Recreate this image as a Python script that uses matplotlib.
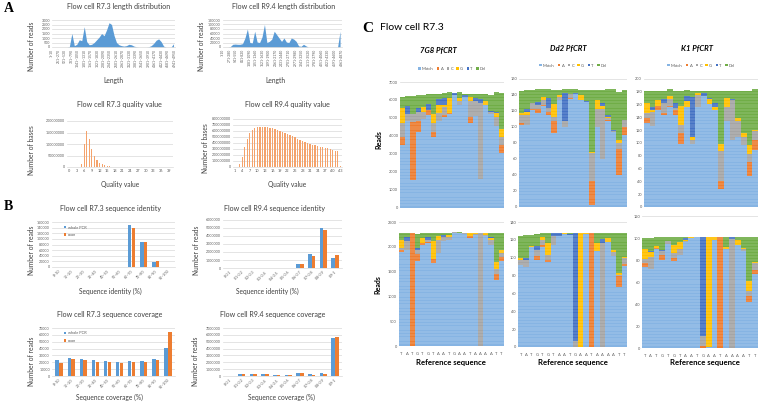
import numpy as np
import matplotlib
matplotlib.use("Agg")
import matplotlib.pyplot as plt
from matplotlib.patches import Patch

plt.rcParams['font.family'] = ['Lato', 'DejaVu Sans']

W, H = 760, 403
fig = plt.figure(figsize=(W / 100, H / 100), dpi=100)

BLUE = '#5B9BD5'
ORANGE = '#ED7D31'
GRID = '#D9D9D9'
TXT = '#404040'

# ---------------- data ----------------
len73_x = list(range(0, 5000, 100))
len73_y = [0, 0, 0, 0, 0, 0, 0, 50, 1500, 150, 300, 800, 700, 2250, 600, 250, 300, 500, 800, 1100,
           1500, 1250, 1900, 2700, 2500, 1300, 500, 250, 150, 100, 150, 300, 250, 100, 30, 0, 0, 0, 0, 30,
           150, 400, 750, 900, 600, 100, 0, 0, 0, 350]
len73_ticks = [1, 261, 521, 781, 1041, 1301, 1561, 1821, 2081, 2341, 2601, 2861, 3121, 3381, 3641,
               3901, 4161, 4421, 4681, 4941]
len73_labels = [f"{v}~{v + 9}" for v in len73_ticks]

len94_x = list(range(0, 4900, 100))
len94_y = [0, 0, 0, 2000, 12000, 13000, 12000, 12000, 15000, 40000, 80000, 20000, 18000, 70000, 22000,
           20000, 45000, 100000, 20000, 25000, 35000, 70000, 55000, 40000, 25000, 40000, 22000, 20000, 40000,
           35000, 25000, 5000, 3000, 12000, 5000, 0, 0, 0, 0, 0, 0, 0, 0, 0, 0, 0, 0, 0, 70000]
len94_ticks = [1, 271, 541, 811, 1081, 1351, 1621, 1891, 2161, 2431, 2701, 2971, 3241, 3511, 3781,
               4051, 4321, 4591, 4861]
len94_labels = [f"{v}-{v + 9}" for v in len94_ticks]

q73_cat = list(range(0, 41))
q73_val = [0, 0, 0, 0, 0, 12e6, 100e6, 158e6, 122e6, 80e6, 48e6, 30e6, 18e6, 12e6, 7e6, 5e6, 3e6, 2e6,
           1e6, 0.5e6] + [0] * 21

q94_cat = list(range(1, 44))
q94_val = [0, 0, 50e6, 175e6, 330e6, 460e6, 570e6, 620e6, 650e6, 665e6, 670e6, 672e6, 670e6, 665e6,
           655e6, 645e6, 635e6, 620e6, 605e6, 590e6, 575e6, 555e6, 535e6, 515e6, 495e6, 475e6, 455e6,
           435e6, 418e6, 402e6, 388e6, 374e6, 362e6, 350e6, 340e6, 330e6, 320e6, 310e6, 300e6, 290e6,
           275e6, 260e6, 15e6]

cat73 = ["0~10", "10~20", "20~30", "30~40", "40~50", "50~60", "60~70", "70~80", "80~90", "90~100"]
cat94 = ["0-0.1", "0.1-0.2", "0.2-0.3", "0.3-0.4", "0.4-0.5", "0.5-0.6", "0.6-0.7", "0.7-0.8",
         "0.8-0.9", "0.9-1"]

id73_whole = [0, 0, 0, 0, 0, 0, 148000, 88000, 17000, 0]
id73_exon = [0, 0, 0, 0, 0, 0, 140000, 90000, 22000, 0]
id94_whole = [0, 0, 0, 0, 0, 0, 450000, 1750000, 4950000, 1200000]
id94_exon = [0, 0, 0, 0, 0, 0, 480000, 1500000, 4800000, 1650000]

cov73_whole = [24000, 26500, 24500, 23000, 22000, 21000, 22000, 22500, 25500, 41500]
cov73_exon = [19000, 25500, 23000, 21000, 20000, 18500, 20000, 20000, 23000, 63500]
cov94_whole = [30000, 250000, 280000, 350000, 200000, 200000, 480000, 250000, 400000, 5500000]
cov94_exon = [30000, 250000, 280000, 350000, 200000, 180000, 420000, 200000, 350000, 5750000]

ref_seq = list("TATGTGTAATGAATAAAATT")
components = ["Match", "A", "C", "G", "T", "Del"]
comp_colors = ['#86B4E3', '#ED7D31', '#A5A5A5', '#FFC000', '#4472C4', '#70AD47']

g7_top = {
    "Match": [3500, 4850, 1550, 4200, 4930, 5140, 3930, 4840, 5070, 5200, 6300, 5690, 6190, 4710, 5110, 1600, 5690, 5200, 4560, 3040],
    "A":     [450, 0, 3200, 650, 0, 290, 300, 0, 70, 90, 0, 0, 0, 360, 0, 0, 0, 0, 0, 450],
    "C":     [750, 350, 450, 450, 420, 0, 500, 450, 450, 0, 0, 230, 0, 850, 810, 4230, 0, 100, 460, 450],
    "G":     [850, 0, 0, 0, 260, 0, 500, 400, 130, 810, 0, 180, 0, 250, 0, 0, 230, 0, 230, 450],
    "T":     [0, 450, 0, 270, 0, 360, 0, 360, 360, 0, 80, 0, 100, 0, 160, 230, 0, 100, 90, 0],
    "Del":   [620, 580, 1030, 710, 690, 540, 1100, 280, 290, 330, 0, 330, 30, 150, 240, 290, 400, 900, 1100, 2000],
}
dd2_top = {
    "Match": [103, 103, 121, 117, 126, 115, 92, 134, 100, 135, 141, 134, 131, 3, 100, 60, 107, 94, 40, 90],
    "A":     [2, 0, 2, 5, 1, 4, 15, 0, 0, 1, 0, 0, 0, 29, 0, 0, 2, 0, 33, 10],
    "C":     [10, 12, 7, 5, 7, 5, 6, 4, 7, 5, 0, 0, 0, 35, 22, 62, 2, 1, 7, 9],
    "G":     [2, 4, 0, 0, 3, 0, 16, 2, 0, 0, 0, 6, 0, 2, 12, 4, 2, 0, 4, 0],
    "T":     [0, 3, 0, 4, 0, 12, 0, 0, 35, 0, 1, 0, 1, 0, 0, 4, 2, 1, 0, 0],
    "Del":   [28, 24, 16, 16, 10, 11, 17, 6, 5, 6, 5, 6, 14, 77, 12, 16, 32, 51, 60, 37],
}
k1_top = {
    "Match": [131, 126, 152, 144, 157, 144, 99, 157, 99, 157, 173, 161, 152, 28, 134, 105, 109, 97, 48, 89],
    "A":     [8, 0, 6, 3, 1, 8, 16, 0, 0, 0, 0, 0, 0, 12, 0, 0, 0, 0, 23, 16],
    "C":     [8, 23, 0, 15, 10, 2, 13, 0, 6, 18, 0, 0, 0, 48, 23, 62, 25, 13, 12, 13],
    "G":     [15, 3, 9, 0, 5, 0, 30, 9, 5, 3, 0, 7, 5, 11, 13, 0, 5, 5, 14, 3],
    "T":     [0, 5, 0, 6, 0, 8, 0, 7, 62, 0, 5, 3, 5, 0, 0, 1, 0, 0, 0, 0],
    "Del":   [20, 25, 15, 14, 11, 20, 24, 10, 10, 4, 4, 11, 20, 83, 12, 14, 43, 67, 85, 63],
}
g7_bot = {
    "Match": [1900, 1940, 0, 1716, 2040, 2074, 1669, 1885, 2108, 2128, 2270, 2270, 2250, 2176, 2230, 0, 2209, 2040, 1330, 1720],
    "A":     [30, 0, 2270, 135, 34, 20, 80, 0, 0, 0, 0, 0, 0, 34, 0, 0, 0, 0, 130, 70],
    "C":     [40, 170, 0, 88, 0, 50, 0, 257, 90, 60, 20, 10, 30, 0, 30, 2270, 30, 100, 100, 80],
    "G":     [170, 0, 0, 0, 100, 0, 360, 67, 0, 55, 0, 0, 0, 67, 20, 0, 40, 35, 130, 60],
    "T":     [0, 90, 0, 34, 0, 50, 0, 0, 40, 0, 0, 0, 0, 0, 0, 0, 0, 15, 0, 0],
    "Del":   [140, 80, 0, 290, 105, 85, 170, 70, 40, 35, 0, 10, 0, 0, 0, 0, 0, 90, 590, 350],
}
dd2_bot = {
    "Match": [92, 90, 112, 98, 112, 95, 114, 124, 127, 126, 0, 0, 127, 0, 107, 0, 118, 102, 67, 91],
    "A":     [0, 0, 0, 4, 2, 3, 0, 0, 0, 0, 0, 0, 0, 128, 0, 0, 0, 0, 12, 2],
    "C":     [6, 8, 0, 7, 6, 5, 10, 0, 0, 0, 7, 0, 0, 0, 0, 117, 0, 4, 2, 7],
    "G":     [2, 0, 1, 0, 3, 14, 0, 0, 1, 0, 0, 128, 1, 0, 9, 0, 4, 3, 2, 1],
    "T":     [0, 2, 0, 4, 0, 0, 4, 4, 0, 1, 121, 0, 0, 0, 0, 4, 0, 0, 0, 0],
    "Del":   [24, 26, 13, 14, 5, 11, 0, 0, 0, 1, 0, 0, 0, 0, 12, 7, 6, 19, 45, 27],
}
k1_bot = {
    "Match": [74, 72, 90, 80, 95, 79, 85, 96, 100, 101, 0, 1, 98, 0, 90, 0, 94, 88, 42, 67],
    "A":     [3, 0, 1, 5, 0, 3, 0, 0, 0, 0, 2, 0, 0, 101, 0, 0, 0, 0, 5, 4],
    "C":     [4, 11, 0, 3, 2, 4, 5, 1, 0, 0, 9, 0, 0, 0, 0, 99, 0, 2, 5, 6],
    "G":     [9, 4, 2, 0, 0, 8, 6, 1, 1, 0, 0, 100, 3, 0, 2, 0, 4, 1, 9, 1],
    "T":     [0, 1, 0, 1, 0, 0, 0, 2, 0, 0, 90, 0, 0, 0, 0, 2, 0, 0, 0, 0],
    "Del":   [10, 12, 8, 12, 4, 7, 5, 1, 0, 0, 0, 0, 0, 0, 9, 0, 3, 10, 40, 23],
}


# ---------------- helpers ----------------
def add_ax(x0, y0, x1, y1):
    return fig.add_axes([x0 / W, 1 - y1 / H, (x1 - x0) / W, (y1 - y0) / H])


def ftext(x, y, s, **kw):
    kw.setdefault('ha', 'center')
    kw.setdefault('va', 'center')
    kw.setdefault('color', TXT)
    return fig.text(x / W, 1 - y / H, s, **kw)


def excel_style(ax, ymax, ystep, fs=3.0):
    for sp in ['top', 'right', 'left']:
        ax.spines[sp].set_visible(False)
    ax.spines['bottom'].set_color(GRID)
    ax.spines['bottom'].set_linewidth(0.5)
    ax.set_ylim(0, ymax)
    ax.set_yticks(np.arange(0, ymax + ystep / 2, ystep))
    ax.yaxis.grid(True, color=GRID, lw=0.5)
    ax.set_axisbelow(True)
    ax.tick_params(length=0, labelsize=fs, colors='#595959', pad=1.5)
    ax.yaxis.set_major_formatter(matplotlib.ticker.FuncFormatter(lambda v, p: f"{int(v)}"))


TFS = 5.1   # chart title size
LFS = 4.8   # axis label size

# ---------------- panel A ----------------
ftext(9, 8, "A", fontsize=10, fontweight='bold', family='Liberation Serif', color='black')

ax = add_ax(52, 20, 175, 47)
ax.fill_between(len73_x, len73_y, color=BLUE, lw=0)
excel_style(ax, 3000, 500, 2.6)
ax.set_xlim(0, 4960)
ax.set_xticks(len73_ticks)
ax.set_xticklabels(len73_labels, rotation=90, fontsize=2.4)
ftext(119, 7, "Flow cell R7.3 length distribution", fontsize=TFS)
ftext(32, 46, "Number of reads", fontsize=LFS, rotation=90)
ftext(113, 80, "Length", fontsize=LFS)

ax = add_ax(223, 20, 342, 47)
ax.fill_between(len94_x, len94_y, color=BLUE, lw=0)
excel_style(ax, 120000, 20000, 2.6)
ax.set_xlim(0, 4880)
ax.set_xticks(len94_ticks)
ax.set_xticklabels(len94_labels, rotation=90, fontsize=2.4)
ftext(284, 7, "Flow cell R9.4 length distribution", fontsize=TFS)
ftext(201, 46, "Number of reads", fontsize=LFS, rotation=90)
ftext(275, 80, "Length", fontsize=LFS)

ax = add_ax(67, 121, 173, 167)
ax.bar(q73_cat, q73_val, width=0.45, color='#F4A36C', lw=0)
excel_style(ax, 200e6, 50e6, 2.6)
ax.set_xlim(-0.7, 40.7)
ax.set_xticks(q73_cat[::3])
ax.set_xticklabels([str(c) for c in q73_cat[::3]], fontsize=2.8)
ftext(119, 105, "Flow cell R7.3 quality value", fontsize=TFS)
ftext(32, 150, "Number of bases", fontsize=LFS, rotation=90)
ftext(120, 184, "Quality value", fontsize=LFS)

ax = add_ax(233, 119, 342, 167)
ax.bar(q94_cat, q94_val, width=0.5, color='#F4A36C', lw=0)
excel_style(ax, 800e6, 100e6, 2.6)
ax.set_xlim(0.3, 43.7)
ax.set_xticks(q94_cat[::3])
ax.set_xticklabels([str(c) for c in q94_cat[::3]], fontsize=2.8)
ftext(287, 105, "Flow cell R9.4 quality value", fontsize=TFS)
ftext(205, 148, "Number of bases", fontsize=LFS, rotation=90)
ftext(287, 184, "Quality value", fontsize=LFS)

# ---------------- panel B ----------------
ftext(8, 207, "B", fontsize=10, fontweight='bold', family='Liberation Serif', color='black')


def grouped(ax, cats, a, b, ymax, ystep, legend=False):
    x = np.arange(len(cats))
    ax.bar(x - 0.16, a, width=0.3, color=BLUE, lw=0, label="whole PCR")
    ax.bar(x + 0.16, b, width=0.3, color=ORANGE, lw=0, label="exon")
    excel_style(ax, ymax, ystep, 2.6)
    ax.set_xlim(-0.6, len(cats) - 0.4)
    ax.set_xticks(x)
    ax.set_xticklabels(cats, rotation=45, fontsize=2.6, ha='right', rotation_mode='anchor')
    if legend:
        ax.legend(loc='upper left', bbox_to_anchor=(0.07, 1.0), fontsize=2.8, frameon=False,
                  handlelength=0.6, handleheight=0.6, labelspacing=0.9, handletextpad=0.3,
                  labelcolor='#595959')


ax = add_ax(52, 222, 175, 267)
grouped(ax, cat73, id73_whole, id73_exon, 160000, 20000, legend=True)
ftext(110, 208, "Flow cell R7.3 sequence identity", fontsize=TFS)
ftext(32, 250, "Number of reads", fontsize=LFS, rotation=90)
ftext(110, 291, "Sequence identity (%)", fontsize=LFS)

ax = add_ax(223, 220, 342, 268)
grouped(ax, cat94, id94_whole, id94_exon, 6000000, 1000000)
ftext(274, 208, "Flow cell R9.4 sequence identity", fontsize=TFS)
ftext(196, 250, "Number of reads", fontsize=LFS, rotation=90)
ftext(267, 291, "Sequence identity (%)", fontsize=LFS)

ax = add_ax(52, 328, 175, 376)
grouped(ax, cat73, cov73_whole, cov73_exon, 70000, 10000, legend=True)
ftext(110, 314, "Flow cell R7.3 sequence coverage", fontsize=TFS)
ftext(32, 361, "Number of reads", fontsize=LFS, rotation=90)
ftext(109, 397, "Sequence coverage (%)", fontsize=LFS)

ax = add_ax(223, 328, 342, 376)
grouped(ax, cat94, cov94_whole, cov94_exon, 7000000, 1000000)
ftext(273, 314, "Flow cell R9.4 sequence coverage", fontsize=TFS)
ftext(195, 361, "Number of reads", fontsize=LFS, rotation=90)
ftext(281, 397, "Sequence coverage (%)", fontsize=LFS)

# ---------------- panel C ----------------
ftext(368, 28, "C", fontsize=11, fontweight='bold', family='Liberation Serif', color='black')
ftext(380, 28, "Flow cell R7.3", fontsize=7.5, ha='left', color='black')


def stacked(ax, data, ymax, ystep, bottom_row, legend=False):
    x = np.arange(len(ref_seq))
    base = np.zeros(len(ref_seq))
    for comp, col in zip(components, comp_colors):
        vals = np.array(data[comp], dtype=float)
        ax.bar(x, vals, bottom=base, width=1.0, color=col, lw=0, zorder=2)
        base += vals
    ax.set_xlim(-0.5, len(ref_seq) - 0.5)
    excel_style(ax, ymax, ystep, 2.8)
    ax.spines['bottom'].set_visible(False)
    stripes = np.linspace(0, ymax, 46)[1:-1]
    ax.hlines(stripes, -0.5, len(ref_seq) - 0.5, colors='white', lw=0.35, alpha=0.45, zorder=3)
    if bottom_row:
        ax.set_xticks(x)
        ax.set_xticklabels(ref_seq, fontsize=3.0)
        ax.tick_params(axis='x', pad=4)
    else:
        ax.set_xticks([])
    if legend:
        handles = [Patch(facecolor=c, lw=0) for c in comp_colors]
        ax.legend(handles, components, loc='lower center', bbox_to_anchor=(0.5, 1.06), ncol=6,
                  fontsize=3.0, frameon=False, handlelength=0.6, handleheight=0.6,
                  columnspacing=0.8, handletextpad=0.3, labelcolor='#595959')


ax = add_ax(400, 82, 504, 207.5)
stacked(ax, g7_top, 7000, 1000, False, legend=True)
ax = add_ax(519, 79, 627, 207)
stacked(ax, dd2_top, 160, 20, False, legend=True)
ax = add_ax(644, 79, 758, 207)
stacked(ax, k1_top, 200, 20, False, legend=True)

ax = add_ax(399, 222, 504, 346)
stacked(ax, g7_bot, 2500, 500, True)
ax = add_ax(518, 222, 627, 347)
stacked(ax, dd2_bot, 140, 20, True)
ax = add_ax(642, 216, 758, 348)
stacked(ax, k1_bot, 120, 20, True)

for xc, y, s in [(438, 50, "7G8 "), (568, 48, "Dd2 "), (697, 48, "K1 ")]:
    ftext(xc, y, s + "PfCRT", fontsize=5.6, fontweight='bold', fontstyle='italic', color='black')

ftext(379, 140, "Reads", fontsize=5.0, fontweight='bold', rotation=90, color='black')
ftext(378, 285, "Reads", fontsize=5.0, fontweight='bold', rotation=90, color='black')
for xc in [451, 573, 705]:
    ftext(xc, 363, "Reference sequence", fontsize=5.6, fontweight='bold', color='black')

fig.savefig("out.png", dpi=100, facecolor='white')
